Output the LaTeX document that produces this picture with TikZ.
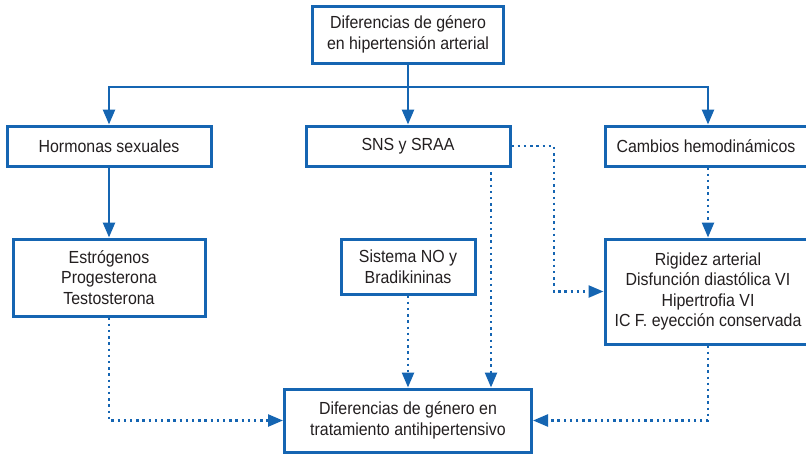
\documentclass[tikz,border=0pt]{standalone}
\usepackage{fontspec}
\setmainfont{Liberation Sans}[FakeStretch=0.91]
\usetikzlibrary{arrows.meta}
\definecolor{flowblue}{RGB}{21,101,178}
\definecolor{txtgray}{RGB}{35,31,32}
\begin{document}
\begin{tikzpicture}[x=1pt,y=-1pt,
 box/.style={draw=flowblue, line width=3pt, fill=white, inner sep=0pt, align=center, text=txtgray, font=\fontsize{17.5}{20.5}\selectfont},
 solidarrow/.style={draw=flowblue, line width=2.5pt, -{Triangle[length=15pt,width=12pt]}},
 dotarrow/.style={draw=flowblue, line width=2.4pt, dash pattern=on 2.4pt off 3.8pt, -{Triangle[length=15pt,width=12pt]}}]
\useasboundingbox (0,0) rectangle (806,455);

\node[box, minimum width=191pt, minimum height=57pt] (top) at (408,34.5) {Diferencias de género\\en hipertensión arterial};
\node[box, minimum width=204pt, minimum height=40pt] (horm) at (109,146) {Hormonas sexuales};
\node[box, minimum width=204pt, minimum height=40pt] (sns) at (408,146) {SNS y SRAA};
\node[box, minimum width=206pt, minimum height=40pt] (camb) at (708,146) {\hspace*{-4pt}Cambios hemodinámicos};
\node[box, minimum width=192pt, minimum height=77pt] (estr) at (109,277.5) {Estrógenos\\Progesterona\\Testosterona};
\node[box, minimum width=134pt, minimum height=55pt] (sis) at (408,266.5) {Sistema NO y\\Bradikininas};
\node[box, minimum width=206pt, minimum height=105pt] (rig) at (708,291.5) {Rigidez arterial\\Disfunción diastólica VI\\Hipertrofia VI\\IC F. eyección conservada};
\node[box, minimum width=247pt, minimum height=63pt] (bot) at (408,420.5) {Diferencias de género en\\tratamiento antihipertensivo};

\coordinate (bus) at (408,87);
\coordinate (snsbend) at (554,146);
\coordinate (snsout) at (491,166);

\draw[solidarrow] (top.south) -- (sns.north);
\draw[solidarrow] (bus) -| (horm.north);
\draw[solidarrow] (bus) -| (camb.north);
\draw[solidarrow] (horm.south) -- (estr.north);

\draw[dotarrow] (sns.east) -- (snsbend) |- (rig.west);
\draw[dotarrow] (snsout) -- (snsout |- bot.north);
\draw[dotarrow] (sis.south) -- (bot.north);
\draw[dotarrow] (camb.south) -- (rig.north);
\draw[dotarrow] (estr.south) |- (bot.west);
\draw[dotarrow] (rig.south) |- (bot.east);
\end{tikzpicture}
\end{document}
